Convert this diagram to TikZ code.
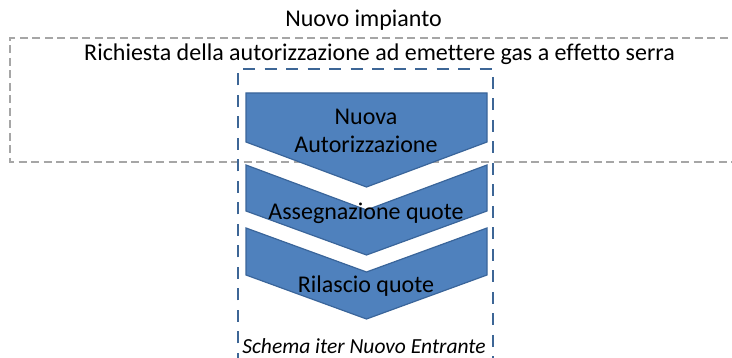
\documentclass[tikz,border=0pt]{standalone}
\usepackage{fontspec}
\setmainfont{Carlito}[Ligatures={NoCommon}]
\begin{document}
\begin{tikzpicture}[x=1pt,y=-1pt,
  chev/.style={fill=chevfill,draw=chevborder,line width=1.2pt,line join=miter},
  lbl/.style={font=\fontsize{24}{28}\selectfont,text=black,inner sep=0pt,align=center,anchor=base},
  grayframe/.style={draw=framegray,line width=1.4pt,dash pattern=on 8pt off 4.5pt},
  blueframe/.style={draw=frameblue,line width=2.6pt,dash pattern=on 12pt off 9.5pt}]
\definecolor{chevfill}{HTML}{4F81BD}
\definecolor{chevborder}{HTML}{3A659A}
\definecolor{framegray}{HTML}{A6A6A6}
\definecolor{frameblue}{HTML}{3D6696}
\useasboundingbox (0,0) rectangle (732,358);
% gray frame
\draw[grayframe] (740,38) -- (10,38) -- (10,162) -- (740,162);
% blue frame
\draw[blueframe] (238,365) -- (238,69) -- (493,69) -- (493,365);
% chevrons
\draw[chev] (246,93) -- (487,93) -- (487,142) -- (366.5,187) -- (246,142) -- cycle;
\draw[chev] (246,165) -- (366.5,210) -- (487,165) -- (487,211) -- (366.5,255) -- (246,211) -- cycle;
\draw[chev] (246,228) -- (366.5,272) -- (487,228) -- (487,275) -- (366.5,319) -- (246,275) -- cycle;
% texts
\node[lbl] (title) at (363.5,27) {Nuovo impianto};
\node[lbl] (req) at (379.5,61) {Richiesta della autorizzazione ad emettere gas a effetto serra};
\node[lbl] (c1) at (366,153) {Nuova\\Autorizzazione};
\node[lbl] (c2) at (366,220) {Assegnazione quote};
\node[lbl] (c3) at (366,293) {Rilascio quote};
\node[lbl,font=\fontsize{21.5}{25}\selectfont\itshape] (cap) at (364,353.5) {Schema iter Nuovo Entrante};
\end{tikzpicture}
\end{document}
